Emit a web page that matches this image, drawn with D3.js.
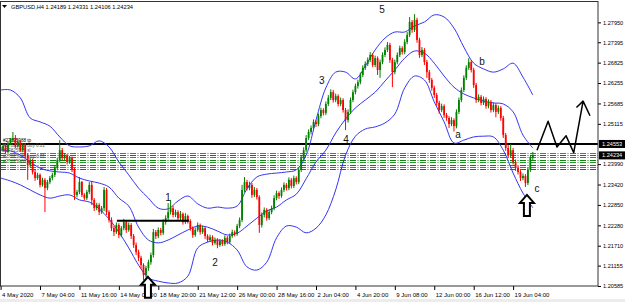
<!DOCTYPE html>
<html><head><meta charset="utf-8">
<script src="https://cdn.jsdelivr.net/npm/d3@7"></script>
<style>
body{margin:0;background:#fff;}
svg{display:block;font-family:"Liberation Sans",Arial,sans-serif;}
</style>
</head><body>
<svg id="c" width="625" height="302"></svg>
<script>
// ---------------- DATA ----------------
const headerSymbol = "GBPUSD,H4";
const headerOHLC = "1.24189 1.24331 1.24106 1.24234";

// H4 candles [open, high, low, close], one per bar, 4 May 2020 -> 19 Jun 2020
const candles = [
[1.2447,1.2455,1.2433,1.2438],[1.2438,1.2458,1.2433,1.2450],[1.2450,1.2456,1.2428,1.2433],[1.2433,1.2463,1.2430,1.2458],
[1.2458,1.2472,1.2452,1.2466],[1.2466,1.2489,1.2460,1.2472],[1.2472,1.2480,1.2444,1.2450],[1.2450,1.2468,1.2445,1.2461],
[1.2461,1.2466,1.2433,1.2438],[1.2438,1.2458,1.2432,1.2452],[1.2452,1.2457,1.2418,1.2424],[1.2424,1.2430,1.2355,1.2397],
[1.2397,1.2416,1.2390,1.2410],[1.2410,1.2414,1.2370,1.2377],[1.2377,1.2383,1.2352,1.2360],[1.2360,1.2375,1.2355,1.2369],
[1.2369,1.2373,1.2334,1.2341],[1.2341,1.2361,1.2336,1.2355],[1.2355,1.2360,1.2265,1.2332],[1.2332,1.2355,1.2326,1.2349],
[1.2349,1.2366,1.2343,1.2360],[1.2360,1.2375,1.2354,1.2369],[1.2369,1.2394,1.2363,1.2388],[1.2388,1.2416,1.2382,1.2410],
[1.2410,1.2466,1.2404,1.2438],[1.2438,1.2444,1.2410,1.2416],[1.2416,1.2430,1.2410,1.2424],[1.2424,1.2428,1.2398,1.2405],
[1.2405,1.2422,1.2400,1.2416],[1.2416,1.2420,1.2377,1.2383],[1.2383,1.2388,1.2299,1.2313],[1.2313,1.2327,1.2306,1.2321],
[1.2321,1.2363,1.2315,1.2349],[1.2349,1.2352,1.2307,1.2313],[1.2313,1.2318,1.2297,1.2304],[1.2304,1.2327,1.2299,1.2321],
[1.2321,1.2349,1.2315,1.2341],[1.2341,1.2352,1.2285,1.2299],[1.2299,1.2304,1.2268,1.2276],[1.2276,1.2291,1.2270,1.2285],
[1.2285,1.2290,1.2257,1.2265],[1.2265,1.2282,1.2260,1.2276],[1.2276,1.2335,1.2268,1.2327],[1.2327,1.2332,1.2257,1.2265],
[1.2265,1.2270,1.2236,1.2243],[1.2243,1.2250,1.2212,1.2220],[1.2220,1.2226,1.2198,1.2209],[1.2209,1.2236,1.2204,1.2229],
[1.2229,1.2234,1.2192,1.2201],[1.2201,1.2226,1.2195,1.2220],[1.2220,1.2246,1.2214,1.2237],[1.2237,1.2242,1.2207,1.2215],
[1.2215,1.2236,1.2210,1.2229],[1.2229,1.2234,1.2190,1.2198],[1.2198,1.2204,1.2165,1.2173],[1.2173,1.2180,1.2145,1.2153],
[1.2153,1.2160,1.2128,1.2137],[1.2137,1.2143,1.2106,1.2117],[1.2117,1.2122,1.2075,1.2089],[1.2089,1.2115,1.2082,1.2109],
[1.2109,1.2132,1.2101,1.2125],[1.2125,1.2152,1.2118,1.2145],[1.2145,1.2218,1.2138,1.2209],[1.2209,1.2215,1.2190,1.2198],
[1.2198,1.2222,1.2192,1.2215],[1.2215,1.2221,1.2200,1.2207],[1.2207,1.2245,1.2201,1.2237],[1.2237,1.2256,1.2230,1.2248],
[1.2248,1.2290,1.2242,1.2265],[1.2265,1.2299,1.2258,1.2276],[1.2276,1.2282,1.2250,1.2257],[1.2257,1.2272,1.2251,1.2265],
[1.2265,1.2270,1.2241,1.2248],[1.2248,1.2268,1.2243,1.2260],[1.2260,1.2264,1.2230,1.2237],[1.2237,1.2262,1.2232,1.2254],
[1.2254,1.2258,1.2233,1.2240],[1.2240,1.2245,1.2213,1.2220],[1.2220,1.2225,1.2193,1.2201],[1.2201,1.2222,1.2196,1.2215],
[1.2215,1.2236,1.2210,1.2229],[1.2229,1.2233,1.2202,1.2209],[1.2209,1.2227,1.2204,1.2220],[1.2220,1.2224,1.2190,1.2198],
[1.2198,1.2203,1.2181,1.2187],[1.2187,1.2202,1.2182,1.2195],[1.2195,1.2200,1.2172,1.2179],[1.2179,1.2194,1.2174,1.2187],
[1.2187,1.2192,1.2164,1.2173],[1.2173,1.2190,1.2168,1.2184],[1.2184,1.2189,1.2170,1.2176],[1.2176,1.2200,1.2171,1.2193],
[1.2193,1.2198,1.2175,1.2181],[1.2181,1.2205,1.2176,1.2198],[1.2198,1.2216,1.2193,1.2209],[1.2209,1.2214,1.2197,1.2204],
[1.2204,1.2232,1.2199,1.2226],[1.2226,1.2250,1.2220,1.2243],[1.2243,1.2341,1.2237,1.2327],[1.2327,1.2363,1.2320,1.2349],
[1.2349,1.2355,1.2325,1.2332],[1.2332,1.2350,1.2326,1.2341],[1.2341,1.2346,1.2305,1.2313],[1.2313,1.2335,1.2307,1.2327],
[1.2327,1.2332,1.2300,1.2307],[1.2307,1.2312,1.2207,1.2229],[1.2229,1.2264,1.2222,1.2257],[1.2257,1.2278,1.2250,1.2271],
[1.2271,1.2276,1.2241,1.2248],[1.2248,1.2272,1.2243,1.2265],[1.2265,1.2283,1.2259,1.2276],[1.2276,1.2312,1.2270,1.2304],
[1.2304,1.2325,1.2298,1.2318],[1.2318,1.2323,1.2302,1.2310],[1.2310,1.2334,1.2305,1.2327],[1.2327,1.2348,1.2321,1.2341],
[1.2341,1.2346,1.2325,1.2332],[1.2332,1.2362,1.2326,1.2355],[1.2355,1.2360,1.2331,1.2338],[1.2338,1.2367,1.2332,1.2360],
[1.2360,1.2365,1.2342,1.2349],[1.2349,1.2390,1.2343,1.2383],[1.2383,1.2424,1.2377,1.2416],[1.2416,1.2446,1.2410,1.2438],
[1.2438,1.2480,1.2432,1.2472],[1.2472,1.2496,1.2466,1.2489],[1.2489,1.2507,1.2482,1.2500],[1.2500,1.2524,1.2494,1.2517],
[1.2517,1.2522,1.2503,1.2511],[1.2511,1.2540,1.2505,1.2533],[1.2533,1.2557,1.2527,1.2550],[1.2550,1.2555,1.2535,1.2542],
[1.2542,1.2574,1.2536,1.2567],[1.2567,1.2592,1.2561,1.2584],[1.2584,1.2608,1.2578,1.2600],[1.2600,1.2606,1.2571,1.2578],
[1.2578,1.2596,1.2572,1.2589],[1.2589,1.2594,1.2560,1.2567],[1.2567,1.2585,1.2561,1.2578],[1.2578,1.2583,1.2543,1.2550],
[1.2550,1.2556,1.2494,1.2522],[1.2522,1.2552,1.2515,1.2545],[1.2545,1.2585,1.2539,1.2578],[1.2578,1.2607,1.2572,1.2600],
[1.2600,1.2624,1.2594,1.2617],[1.2617,1.2635,1.2610,1.2628],[1.2628,1.2655,1.2622,1.2648],[1.2648,1.2675,1.2642,1.2668],
[1.2668,1.2686,1.2662,1.2679],[1.2679,1.2697,1.2673,1.2690],[1.2690,1.2712,1.2684,1.2704],[1.2704,1.2709,1.2670,1.2676],
[1.2676,1.2702,1.2670,1.2695],[1.2695,1.2700,1.2648,1.2662],[1.2662,1.2691,1.2640,1.2684],[1.2684,1.2711,1.2678,1.2704],
[1.2704,1.2725,1.2698,1.2718],[1.2718,1.2740,1.2712,1.2732],[1.2732,1.2738,1.2682,1.2690],[1.2690,1.2696,1.2614,1.2656],
[1.2656,1.2691,1.2650,1.2684],[1.2684,1.2711,1.2678,1.2704],[1.2704,1.2730,1.2698,1.2723],[1.2723,1.2728,1.2705,1.2712],
[1.2712,1.2748,1.2706,1.2740],[1.2740,1.2768,1.2734,1.2760],[1.2760,1.2810,1.2754,1.2796],[1.2796,1.2802,1.2766,1.2774],
[1.2774,1.2818,1.2768,1.2802],[1.2802,1.2808,1.2738,1.2746],[1.2746,1.2752,1.2696,1.2704],[1.2704,1.2726,1.2698,1.2718],
[1.2718,1.2723,1.2676,1.2684],[1.2684,1.2690,1.2640,1.2656],[1.2656,1.2662,1.2626,1.2634],[1.2634,1.2640,1.2604,1.2612],
[1.2612,1.2618,1.2584,1.2592],[1.2592,1.2598,1.2562,1.2570],[1.2570,1.2576,1.2540,1.2550],[1.2550,1.2568,1.2544,1.2561],
[1.2561,1.2566,1.2528,1.2536],[1.2536,1.2542,1.2520,1.2528],[1.2528,1.2533,1.2500,1.2511],[1.2511,1.2530,1.2505,1.2522],
[1.2522,1.2527,1.2490,1.2505],[1.2505,1.2552,1.2499,1.2545],[1.2545,1.2585,1.2539,1.2578],[1.2578,1.2613,1.2572,1.2606],
[1.2606,1.2647,1.2600,1.2640],[1.2640,1.2675,1.2634,1.2668],[1.2668,1.2695,1.2662,1.2684],[1.2684,1.2690,1.2655,1.2662],
[1.2662,1.2668,1.2612,1.2620],[1.2620,1.2626,1.2570,1.2578],[1.2578,1.2594,1.2572,1.2587],[1.2587,1.2592,1.2563,1.2570],
[1.2570,1.2588,1.2564,1.2581],[1.2581,1.2586,1.2554,1.2561],[1.2561,1.2580,1.2555,1.2573],[1.2573,1.2578,1.2543,1.2550],
[1.2550,1.2571,1.2544,1.2564],[1.2564,1.2569,1.2530,1.2545],[1.2545,1.2563,1.2539,1.2556],[1.2556,1.2561,1.2520,1.2528],
[1.2528,1.2534,1.2472,1.2480],[1.2480,1.2486,1.2436,1.2444],[1.2444,1.2452,1.2416,1.2424],[1.2424,1.2455,1.2418,1.2438],
[1.2438,1.2444,1.2398,1.2405],[1.2405,1.2412,1.2380,1.2388],[1.2388,1.2394,1.2370,1.2377],[1.2377,1.2382,1.2352,1.2360],
[1.2360,1.2373,1.2354,1.2366],[1.2366,1.2371,1.2335,1.2346],[1.2346,1.2390,1.2340,1.2383],[1.2383,1.2425,1.2377,1.2419],
[1.24189,1.24331,1.24106,1.24234]
];

// Bollinger bands read every 4 bars
const bandBars = [0,4,8,12,16,20,24,28,32,36,40,44,48,52,56,60,64,68,72,76,80,84,88,92,96,100,104,108,112,116,120,124,128,132,136,140,144,148,152,156,160,164,168,172,176,180,184,188,192,196,200,204,208,212,216];
const upperBand = [1.2606,1.2606,1.2584,1.2528,1.2517,1.2505,1.2475,1.2450,1.2447,1.2450,1.2464,1.2447,1.2405,1.2369,1.2332,1.2304,1.2276,1.2274,1.2296,1.2310,1.2288,1.2276,1.2279,1.2276,1.2282,1.2330,1.2363,1.2371,1.2374,1.2377,1.2383,1.2424,1.2522,1.2612,1.2656,1.2656,1.2637,1.2673,1.2718,1.2751,1.2768,1.2768,1.2785,1.2796,1.2816,1.2810,1.2779,1.2726,1.2681,1.2665,1.2656,1.2665,1.2681,1.2642,1.2592];
const middleBand = [1.2438,1.2436,1.2424,1.2405,1.2388,1.2380,1.2377,1.2374,1.2360,1.2352,1.2346,1.2335,1.2304,1.2282,1.2223,1.2187,1.2179,1.2187,1.2201,1.2215,1.2226,1.2223,1.2212,1.2201,1.2206,1.2226,1.2248,1.2268,1.2279,1.2299,1.2315,1.2358,1.2405,1.2438,1.2486,1.2525,1.2556,1.2578,1.2600,1.2631,1.2662,1.2695,1.2715,1.2709,1.2681,1.2645,1.2614,1.2595,1.2584,1.2575,1.2570,1.2567,1.2545,1.2480,1.2444];
const lowerBand = [1.2360,1.2352,1.2341,1.2327,1.2313,1.2304,1.2310,1.2313,1.2299,1.2293,1.2274,1.2246,1.2209,1.2165,1.2117,1.2081,1.2072,1.2067,1.2067,1.2086,1.2165,1.2181,1.2187,1.2181,1.2159,1.2112,1.2103,1.2125,1.2193,1.2226,1.2223,1.2207,1.2220,1.2257,1.2327,1.2424,1.2477,1.2497,1.2503,1.2514,1.2539,1.2612,1.2645,1.2634,1.2573,1.2517,1.2458,1.2466,1.2475,1.2477,1.2475,1.2438,1.2374,1.2318,1.2277];

const priceTicks = [1.27950,1.27395,1.26825,1.26255,1.25685,1.25115,1.23990,1.23420,1.22850,1.22280,1.21710,1.21155,1.20585];
const timeTickBars = [0,16,32,48,64,80,96,112,128,144,160,176,192,208];
const timeTickLabels = ["4 May 2020","7 May 04:00","11 May 16:00","14 May 08:00","18 May 20:00","21 May 12:00","26 May 00:00","28 May 16:00","2 Jun 04:00","4 Jun 20:00","9 Jun 08:00","12 Jun 00:00","16 Jun 12:00","19 Jun 04:00"];

const levelLine = 1.24553;           // black horizontal level
const lastPrice = 1.24234;           // current price box
const zoneLevels = [1.2431,1.2424,1.2418,1.2410,1.2404,1.2397,1.2390,1.2385]; // green dash-dot levels
const neckBars = [47.2, 76.5];       // short black line (bar span)
const neckPrice = 1.2241;

const waveLabels = ["1","2","3","4","5","a","b","c"];
const waveBars   = [68, 87, 130.4, 140.2, 154.8, 185.6, 195.4, 217.7];
const wavePrices = [1.2307,1.2125,1.2634,1.2469,1.2830,1.2483,1.2687,1.2330];

const arrowBars = [59.8, 213.6];
const arrowPrices = [1.2084, 1.2313];

const projBars   = [217.7, 222.2, 225.8, 229.5, 232.6, 236.4, 239.2];
const projPrices = [1.2438, 1.2519, 1.2447, 1.2478, 1.2431, 1.2575, 1.2534];
const projWingBar = 233.7, projWingPrice = 1.2557;

const objectTexts = ["#27825988 tp","#27825988 buy 0.01","#27825988 sl","#27825988 buy 0.01","#27825988 sl"];

// ---------------- DRAW ----------------
const W = 625, H = 302, plotR = 598, plotB = 286, plotT = 2;
const svg = d3.select("#c");
const x = d3.scaleLinear().domain([-0.24, 242.45]).range([0, plotR]);
const y = d3.scaleLinear().domain([1.20585, 1.28575]).range([plotB, 0]);
const crisp = v => Math.round(v) + 0.5;

svg.append("rect").attr("width", W).attr("height", H).attr("fill", "#fff");
svg.append("rect").attr("x", 0).attr("y", 299).attr("width", W).attr("height", 3).attr("fill", "#ececec");

svg.append("defs").append("clipPath").attr("id", "clip")
  .append("rect").attr("x", 0).attr("y", plotT).attr("width", plotR).attr("height", plotB - plotT);
const plot = svg.append("g").attr("clip-path", "url(#clip)");

// green zone lines
plot.selectAll("line.zone").data(zoneLevels).join("line").attr("class", "zone")
  .attr("x1", 0).attr("x2", plotR)
  .attr("y1", d => crisp(y(d))).attr("y2", d => crisp(y(d)))
  .attr("stroke", (d, k) => k % 2 ? "#108010" : "#2a962a")
  .attr("stroke-width", 1).attr("stroke-dasharray", "6,1.5,1,1.5");

// black level line
plot.append("line").attr("x1", 0).attr("x2", plotR)
  .attr("y1", y(levelLine)).attr("y2", y(levelLine))
  .attr("stroke", "#000").attr("stroke-width", 2);

// object texts (top-left)
plot.selectAll("text.obj").data(objectTexts).join("text").attr("class", "obj")
  .attr("x", 3).attr("y", (d, k) => 142 + k * 5.2)
  .attr("font-size", 4.6).attr("fill", (d, k) => k === 0 ? "#000" : "#555")
  .text(d => d);

// bands
const bandLine = arr => d3.line().x((d, k) => x(bandBars[k])).y(d => y(d)).curve(d3.curveCatmullRom)(arr);
[upperBand, middleBand, lowerBand].forEach(b => {
  plot.append("path").attr("d", bandLine(b)).attr("fill", "none")
    .attr("stroke", "#3535f5").attr("stroke-width", 1);
});

// candles
const col = d => d[3] >= d[0] ? "#008000" : "#ff0000";
plot.selectAll("line.wick").data(candles).join("line").attr("class", "wick")
  .attr("x1", (d, i) => x(i)).attr("x2", (d, i) => x(i))
  .attr("y1", d => y(d[1])).attr("y2", d => y(d[2]))
  .attr("stroke", col).attr("stroke-width", 1);
plot.selectAll("rect.body").data(candles).join("rect").attr("class", "body")
  .attr("x", (d, i) => x(i) - 0.9).attr("width", 1.8)
  .attr("y", d => y(Math.max(d[0], d[3])))
  .attr("height", d => Math.max(0.8, Math.abs(y(d[0]) - y(d[3]))))
  .attr("fill", col);

// neck line
plot.append("line").attr("x1", x(neckBars[0])).attr("x2", x(neckBars[1]))
  .attr("y1", y(neckPrice)).attr("y2", y(neckPrice))
  .attr("stroke", "#000").attr("stroke-width", 2);

// projection zigzag
const proj = projBars.map((b, k) => [x(b), y(projPrices[k])]);
plot.append("path").attr("d", d3.line()(proj)).attr("fill", "none")
  .attr("stroke", "#000").attr("stroke-width", 1.5).attr("stroke-linejoin", "round");
plot.append("line").attr("x1", x(projWingBar)).attr("y1", y(projWingPrice))
  .attr("x2", proj[5][0]).attr("y2", proj[5][1]).attr("stroke", "#000").attr("stroke-width", 1.5);

// wave labels
plot.selectAll("text.wave").data(waveLabels).join("text").attr("class", "wave")
  .attr("x", (d, k) => x(waveBars[k])).attr("y", (d, k) => y(wavePrices[k]) + 3.6)
  .attr("text-anchor", "middle").attr("font-size", 10).attr("fill", "#111").text(d => d);

// frame
svg.append("rect").attr("x", 0.5).attr("y", 1.5).attr("width", plotR - 0.5).attr("height", plotB - 1.5)
  .attr("fill", "none").attr("stroke", "#333").attr("stroke-width", 1);

// price axis
const yAxis = d3.axisRight(y).tickValues(priceTicks).tickSize(3).tickPadding(2).tickFormat(d3.format(".5f"));
const ya = svg.append("g").attr("transform", `translate(${plotR},0)`).call(yAxis);
ya.select(".domain").remove();
ya.selectAll("text").attr("font-size", 5.6).attr("fill", "#000").attr("font-family", "'Liberation Sans',Arial,sans-serif");
ya.selectAll("line").attr("stroke", "#000");

// price boxes
[levelLine, lastPrice].forEach(p => {
  const g = svg.append("g").attr("transform", `translate(${plotR + 1},${y(p)})`);
  g.append("rect").attr("x", 0).attr("y", -4).attr("width", 26).attr("height", 8).attr("fill", "#000");
  g.append("text").attr("x", 3).attr("y", 2).attr("font-size", 5.6).attr("fill", "#fff").text(d3.format(".5f")(p));
});

// time axis
const xAxis = d3.axisBottom(x).tickValues(timeTickBars).tickSize(4).tickPadding(3)
  .tickFormat((d, k) => timeTickLabels[k]);
const xa = svg.append("g").attr("transform", `translate(0,${plotB})`).call(xAxis);
xa.select(".domain").remove();
xa.selectAll("text").attr("text-anchor", "start").attr("dx", 1).attr("font-size", 6)
  .attr("fill", "#000").attr("font-family", "'Liberation Sans',Arial,sans-serif");
xa.selectAll("line").attr("stroke", "#000");

// arrows (hollow), drawn above axis text
arrowBars.forEach((b, k) => {
  const tx = x(b), ty = y(arrowPrices[k]);
  const pts = [[0,0],[7,8],[3,8],[3,21],[-3,21],[-3,8],[-7,8]].map(p => [tx + p[0], ty + p[1]]);
  svg.append("path").attr("d", d3.line()(pts) + "Z").attr("fill", "#fff")
    .attr("stroke", "#000").attr("stroke-width", 2).attr("stroke-linejoin", "miter");
});

// header
svg.append("path").attr("d", "M2,5L7,5L4.5,8Z").attr("fill", "#000");
svg.append("text").attr("x", 11).attr("y", 9).attr("font-size", 5.8).attr("fill", "#000")
  .attr("textLength", 122).attr("lengthAdjust", "spacingAndGlyphs")
  .text(headerSymbol + "  " + headerOHLC);
</script>
</body></html>
